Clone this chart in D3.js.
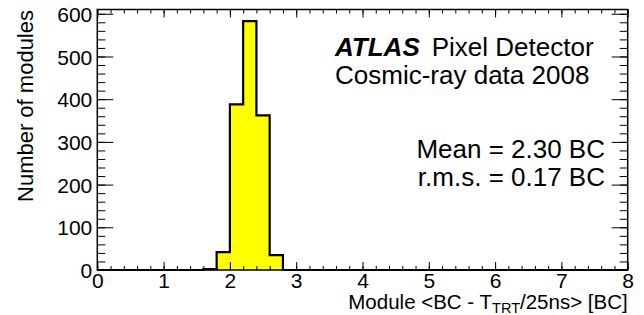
<!DOCTYPE html>
<html>
<head>
<meta charset="utf-8">
<script src="https://cdn.jsdelivr.net/npm/d3@7"></script>
<style>
  body { margin: 0; background: #fff; }
  svg text { font-family: "Liberation Sans", Arial, Helvetica, sans-serif; fill: #000; }
</style>
</head>
<body>
<div id="chart"></div>
<script>
// histogram bins (lower edge, width 0.2 BC) and counts
const binLow = [1.6, 1.8, 2.0, 2.2, 2.4, 2.6];
const binCounts = [2, 42, 388, 583, 362, 35];
const binWidth = 0.2;
const xTicks = [0, 1, 2, 3, 4, 5, 6, 7, 8];
const yTicks = [0, 100, 200, 300, 400, 500, 600];

const width = 644, height = 315;
const margin = { top: 9.5, right: 16.3, bottom: 45, left: 97.3 };
const innerW = width - margin.left - margin.right;
const innerH = height - margin.top - margin.bottom;

const svg = d3.select('#chart').append('svg')
  .attr('width', width)
  .attr('height', height);

const g = svg.append('g')
  .attr('transform', `translate(${margin.left},${margin.top})`);

const x = d3.scaleLinear().domain([0, 8]).range([0, innerW]);
const y = d3.scaleLinear().domain([0, 610]).range([innerH, 0]);

// step outline of the histogram across the full axis range (no inner bin edges)
const pts = [[x.domain()[0], 0], [binLow[0], 0]];
binLow.forEach((lo, i) => {
  pts.push([lo, binCounts[i]], [lo + binWidth, binCounts[i]]);
});
pts.push([binLow[binLow.length - 1] + binWidth, 0], [x.domain()[1], 0]);
const line = d3.line().x(d => x(d[0])).y(d => y(d[1]));

g.append('path')
  .attr('d', line(pts))
  .attr('fill', '#ffff00')
  .attr('stroke', 'none');

g.append('path')
  .attr('d', line(pts))
  .attr('fill', 'none')
  .attr('stroke', '#000')
  .attr('stroke-width', 2.2)
  .attr('stroke-linejoin', 'miter');

// axes, ticks drawn inward on all four sides
const minorX = d3.range(0, 8.001, 0.2);
const minorY = d3.range(0, 601, 20);

function drawAxis(axisFn, scale, major, minor, majLen, minLen, transform, labels) {
  const ax = g.append('g').attr('class', 'axis').attr('transform', transform);
  ax.call(axisFn(scale).tickValues(minor).tickSize(-minLen).tickFormat(''));
  ax.select('.domain').remove();
  const ax2 = g.append('g').attr('class', 'axis').attr('transform', transform);
  ax2.call(axisFn(scale).tickValues(major).tickSize(-majLen).tickFormat(labels ? d3.format('d') : ''));
  ax2.select('.domain').remove();
  return ax2;
}

const bottomAx = drawAxis(d3.axisBottom, x, xTicks, minorX, 8, 4, `translate(0,${innerH})`, true);
drawAxis(d3.axisTop, x, xTicks, minorX, 8, 4, 'translate(0,0)', false);
const leftAx = drawAxis(d3.axisLeft, y, yTicks, minorY, 16, 8, 'translate(0,0)', true);
drawAxis(d3.axisRight, y, yTicks, minorY, 16, 8, `translate(${innerW},0)`, false);

g.selectAll('.axis line').attr('stroke', '#000').attr('stroke-width', 1);

bottomAx.selectAll('text')
  .attr('y', 18)
  .attr('dy', null)
  .style('font-size', '21px');

leftAx.selectAll('text')
  .attr('x', -5)
  .attr('dy', '0.36em')
  .style('font-size', '21px');

// frame
g.append('rect')
  .attr('width', innerW)
  .attr('height', innerH)
  .attr('fill', 'none')
  .attr('stroke', '#000')
  .attr('stroke-width', 1.5);

// axis titles
svg.append('text')
  .attr('transform', 'translate(33,10) rotate(-90)')
  .attr('text-anchor', 'end')
  .style('font-size', '22px')
  .text('Number of modules');

const xt = svg.append('text')
  .attr('x', width - margin.right)
  .attr('y', 308.5)
  .attr('text-anchor', 'end')
  .style('font-size', '20.5px');
xt.append('tspan').text('Module <BC - T');
xt.append('tspan').attr('dy', 4.5).style('font-size', '14.5px').text('TRT');
xt.append('tspan').attr('dy', -4.5).text('/25ns> [BC]');

// annotations
const t1 = svg.append('text').attr('x', 335).attr('y', 56).style('font-size', '26px');
t1.append('tspan').style('font-weight', 'bold').style('font-style', 'italic').text('ATLAS');
t1.append('tspan').attr('dx', 12).text('Pixel Detector');

svg.append('text').attr('x', 335).attr('y', 84).style('font-size', '26px')
  .text('Cosmic-ray data 2008');

svg.append('text').attr('x', 605).attr('y', 158).attr('text-anchor', 'end')
  .style('font-size', '26px').text('Mean = 2.30 BC');

svg.append('text').attr('x', 605).attr('y', 186).attr('text-anchor', 'end')
  .style('font-size', '26px').text('r.m.s. = 0.17 BC');
</script>
</body>
</html>
